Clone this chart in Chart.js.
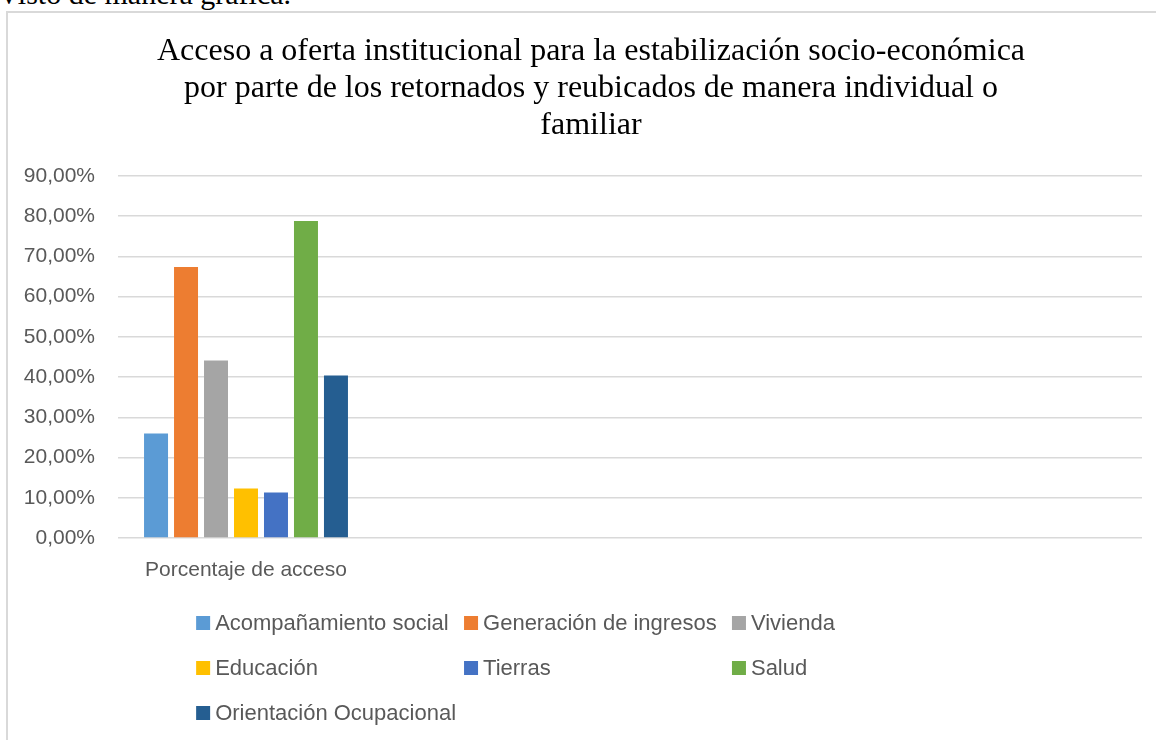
<!DOCTYPE html>
<html>
<head>
<meta charset="utf-8">
<script src="https://cdn.jsdelivr.net/npm/chart.js@4.4.1/dist/chart.umd.min.js"></script>
<style>
  html, body { margin: 0; padding: 0; background: #fff; overflow: hidden; width: 1156px; height: 740px; }
  #intro { position: absolute; left: -2px; top: -21px; font: 30px/30px "Liberation Serif", "Times New Roman", serif; color: #000; white-space: nowrap; }
  #frame { position: absolute; left: 6px; top: 11px; width: 1170px; height: 760px; border-left: 2px solid #d9d9d9; border-top: 2px solid #d9d9d9; }
  #chart { position: absolute; left: 8px; top: 13px; }
</style>
</head>
<body>
<div id="intro">Visto de manera gráfica.</div>
<div id="frame"></div>
<canvas id="chart" width="1166" height="727"></canvas>
<script>
// datos
const categories = ["Porcentaje de acceso", "", "", ""];
const seriesNames = [
  "Acompañamiento social",
  "Generación de ingresos",
  "Vivienda",
  "Educación",
  "Tierras",
  "Salud",
  "Orientación Ocupacional"
];
const seriesValues = [0.26, 0.674, 0.441, 0.123, 0.113, 0.788, 0.404];
const seriesColors = ["#5B9BD5", "#ED7D31", "#A5A5A5", "#FFC000", "#4472C4", "#70AD47", "#255E91"];
const titleLines = [
  "Acceso a oferta institucional para la estabilización socio-económica",
  "por parte de los retornados y reubicados de manera individual o",
  "familiar"
];
const yMax = 0.9;
const yStep = 0.1;

const textColor = "#595959";
const sansFont = '"Liberation Sans", Arial, sans-serif';

// leyenda en columnas, como la de Excel
const gridLegend = {
  id: "gridLegend",
  afterDraw(chart) {
    const ctx = chart.ctx;
    const cols = 3, box = 14, gap = 5, pad = 8, rowH = 45;
    ctx.save();
    ctx.font = "22px " + sansFont;
    const items = chart.data.datasets.map(ds => ({ text: ds.label, color: ds.backgroundColor }));
    const colW = Math.max(...items.map(it => box + gap + ctx.measureText(it.text).width)) + pad;
    const left = chart.width / 2 + 3 - (cols * colW - pad) / 2;
    const top = chart.scales.x.bottom + 35;
    ctx.textBaseline = "middle";
    ctx.textAlign = "left";
    items.forEach((it, i) => {
      const x = left + (i % cols) * colW;
      const y = top + Math.floor(i / cols) * rowH;
      ctx.fillStyle = it.color;
      ctx.fillRect(x, y - box / 2, box, box);
      ctx.fillStyle = textColor;
      ctx.fillText(it.text, x + box + gap, y + 1);
    });
    ctx.restore();
  }
};

const datasets = seriesNames.map((name, i) => ({
  label: name,
  data: categories.map((c, j) => (j === 0 ? seriesValues[i] : null)),
  backgroundColor: seriesColors[i],
  borderWidth: 0,
  barPercentage: 0.8,
  categoryPercentage: 0.82
}));

new Chart(document.getElementById("chart"), {
  type: "bar",
  data: { labels: categories, datasets: datasets },
  plugins: [gridLegend],
  options: {
    responsive: false,
    animation: false,
    layout: { padding: { left: 0, right: 0, top: 0, bottom: 152 } },
    plugins: {
      legend: { display: false },
      tooltip: { enabled: false },
      title: {
        display: true,
        text: titleLines,
        color: "#000",
        font: { family: '"Liberation Serif", "Times New Roman", serif', size: 32, weight: "normal", lineHeight: 1.156 },
        padding: { top: 20, bottom: 32 }
      }
    },
    scales: {
      x: {
        grid: { display: false },
        border: { display: false },
        ticks: { color: textColor, font: { family: sansFont, size: 21 }, padding: 12 },
        afterFit: s => { s.height = 50; }
      },
      y: {
        min: 0,
        max: yMax,
        grid: { color: "#d9d9d9", lineWidth: 1.5, drawTicks: false },
        border: { display: false },
        ticks: {
          stepSize: yStep,
          padding: 23,
          color: textColor,
          font: { family: sansFont, size: 21 },
          callback: v => (v * 100).toFixed(2).replace(".", ",") + "%"
        },
        afterFit: s => { s.width = 110; }
      },
      // eje vacío a la derecha, sólo reserva margen
      yRight: {
        position: "right",
        min: 0,
        max: yMax,
        grid: { display: false, drawTicks: false },
        border: { display: false },
        ticks: { display: false },
        afterFit: s => { s.width = 32; }
      }
    }
  }
});
</script>
</body>
</html>
